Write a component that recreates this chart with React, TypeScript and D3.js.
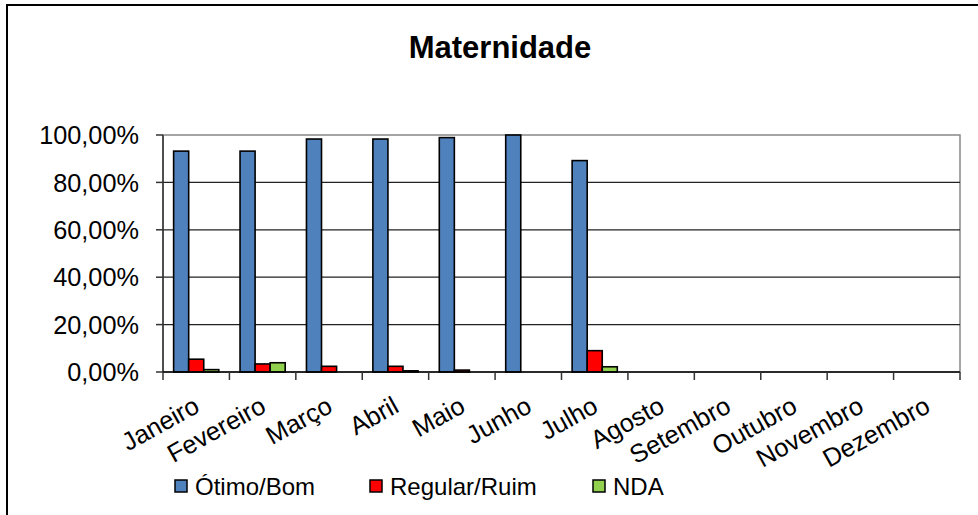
import React from "react";
import * as d3 from "d3";

const months = ["Janeiro","Fevereiro","Março","Abril","Maio","Junho","Julho","Agosto","Setembro","Outubro","Novembro","Dezembro"];
const otimoBom = [93.2, 93.2, 98.3, 98.3, 98.9, 100, 89.2, 0, 0, 0, 0, 0];
const regularRuim = [5.4, 3.4, 2.4, 2.4, 0.8, 0, 9.0, 0, 0, 0, 0, 0];
const nda = [1.0, 3.9, 0, 0.5, 0, 0, 2.2, 0, 0, 0, 0, 0];
const seriesNames = ["Ótimo/Bom", "Regular/Ruim", "NDA"];
const seriesColors = ["#4F81BD", "#FF0000", "#92D050"];
const yTicks = [0, 20, 40, 60, 80, 100];

const W = 978, H = 515;
const plot = { left: 163, right: 960, top: 135, bottom: 372 };
const FONT = "'Liberation Sans', Arial, sans-serif";

export default function App() {
  const x = d3.scaleBand<string>().domain(months).range([plot.left, plot.right]).paddingInner(0).paddingOuter(0);
  const y = d3.scaleLinear().domain([0, 100]).range([plot.bottom, plot.top]);
  const bw = x.bandwidth();
  const inner = d3.scaleBand<number>().domain([0, 1, 2]).range([bw * 0.16, bw * 0.84]);
  const series = [otimoBom, regularRuim, nda];
  const fmt = (v: number) => v.toFixed(2).replace(".", ",") + "%";

  const legendItems = [
    { sx: 175, tx: 195 },
    { sx: 370, tx: 390 },
    { sx: 593, tx: 613 },
  ];

  return (
    <svg width={W} height={H} style={{ position: "absolute", left: 0, top: 0, background: "#fff" }} fontFamily={FONT}>
      <rect x={0} y={0} width={W} height={H} fill="#fff" />
      <rect x={7} y={5} width={W + 20} height={H + 20} fill="none" stroke="#000" strokeWidth={2} />
      <text x={500} y={58} textAnchor="middle" fontSize={31} fontWeight="bold" fill="#000">Maternidade</text>

      {/* plot area border */}
      <rect x={plot.left} y={plot.top} width={plot.right - plot.left} height={plot.bottom - plot.top} fill="#fff" stroke="#888" strokeWidth={1.5} />
      {yTicks.filter(t => t > 0 && t < 100).map(t => (
        <line key={t} x1={plot.left} x2={plot.right} y1={y(t)} y2={y(t)} stroke="#222" strokeWidth={1.2} />
      ))}

      {/* bars */}
      {months.map((m, i) => (
        <g key={m}>
          {series.map((s, k) => s[i] > 0 ? (
            <rect key={k}
              x={(x(m) as number) + (inner(k) as number)}
              y={y(s[i])}
              width={inner.bandwidth()}
              height={plot.bottom - y(s[i])}
              fill={seriesColors[k]} stroke="#000" strokeWidth={1.6} />
          ) : null)}
        </g>
      ))}

      {/* y axis */}
      <line x1={plot.left} x2={plot.left} y1={plot.top} y2={plot.bottom} stroke="#333" strokeWidth={1.5} />
      {yTicks.map(t => (
        <g key={t}>
          <line x1={plot.left - 7} x2={plot.left} y1={y(t)} y2={y(t)} stroke="#333" strokeWidth={1.5} />
          <text x={139} y={y(t)} dy="0.36em" textAnchor="end" fontSize={25.3} fill="#000">{fmt(t)}</text>
        </g>
      ))}

      {/* x axis */}
      <line x1={plot.left} x2={plot.right} y1={plot.bottom} y2={plot.bottom} stroke="#000" strokeWidth={1.5} />
      {months.map((m) => (
        <line key={"t" + m} x1={(x(m) as number)} x2={(x(m) as number)} y1={plot.bottom} y2={plot.bottom + 8} stroke="#333" strokeWidth={1.5} />
      ))}
      <line x1={plot.right} x2={plot.right} y1={plot.bottom} y2={plot.bottom + 8} stroke="#333" strokeWidth={1.5} />
      {months.map(m => {
        const cx = (x(m) as number) + bw / 2 + 5;
        const cy = plot.bottom + 39;
        return (
          <text key={"l" + m} x={0} y={0} transform={`translate(${cx},${cy}) rotate(-29)`} textAnchor="end" fontSize={25.5} fill="#000">{m}</text>
        );
      })}

      {/* legend */}
      {seriesNames.map((n, k) => (
        <g key={n}>
          <rect x={legendItems[k].sx} y={480} width={12} height={12} fill={seriesColors[k]} stroke="#000" strokeWidth={1.5} />
          <text x={legendItems[k].tx} y={495} fontSize={24} fill="#000">{n}</text>
        </g>
      ))}
    </svg>
  );
}
